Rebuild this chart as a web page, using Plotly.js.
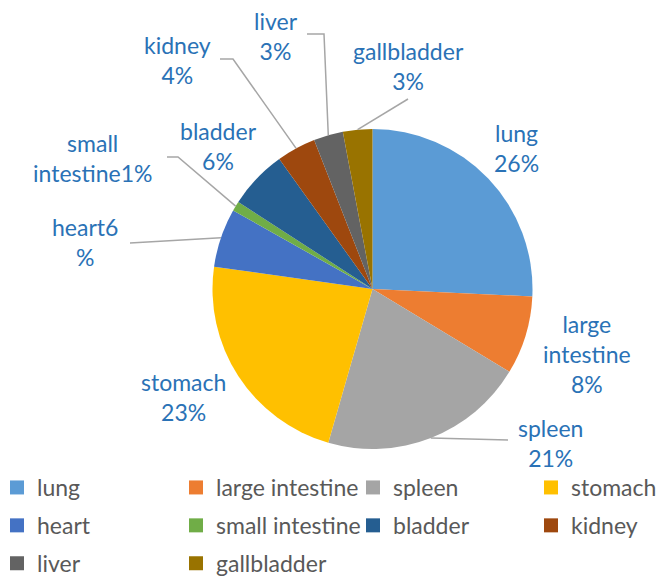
<!DOCTYPE html>
<html><head><meta charset="utf-8">
<script src="https://cdn.plot.ly/plotly-3.0.1.min.js"></script>
<style>html,body{margin:0;padding:0;background:#fff}</style>
</head><body><div id="chart" style="width:657px;height:577px"></div>
<script>
// ---- data ----
const labels = ['lung', 'large intestine', 'spleen', 'stomach', 'heart', 'small intestine', 'bladder', 'kidney', 'liver', 'gallbladder'];
const values = [26, 8, 21, 23, 6, 1, 6, 4, 3, 3];
const colors = ['#5B9BD5', '#ED7D31', '#A5A5A5', '#FFC000', '#4472C4', '#70AD47', '#255E91', '#9E480E', '#636363', '#997300'];
// label line layout as printed on the chart ({p} = percent)
const labelFormats = ['lung<br>{p}', 'large<br>intestine<br>{p}', 'spleen<br>{p}', 'stomach<br>{p}', 'heart6<br>%', 'small<br>intestine{p}', 'bladder<br>{p}', 'kidney<br>{p}', 'liver<br>{p}', 'gallbladder<br>{p}'];

// ---- layout / style ----
const W = 657, H = 577;
const cx = 372.5, cy = 289, R = 160;
const labelPos = [[516,148],[587,354],[550,443],[183,397],[85,242],[92,158],[218,146],[177,60],[276,36],[408,66]];
const leaderPts = [null, null, [[508,440]], null, [[130,243]], [[178,157],[167,157]], null, [[233,59],[220,59]], [[324,34],[307,34]], [[408,99]]];
const legendCols = 4;                 // legend entries flow row by row across 4 columns
const legendTextX = [39, 218, 395, 573];
const legendTop = 466;

const total = values.reduce((a,b)=>a+b,0);
let cum = 0;
const annotations = [], shapes = [];
values.forEach((v,i)=>{
  const mid = (cum + v/2)/total*2*Math.PI; cum += v;
  const ex = cx + R*Math.sin(mid), ey = cy - R*Math.cos(mid);
  const txt = labelFormats[i].replace('{p}', v + '%');
  annotations.push({xref:'paper', yref:'paper', x:labelPos[i][0]/W, y:1-labelPos[i][1]/H,
    xanchor:'center', yanchor:'middle', align:'center', showarrow:false, text:txt,
    font:{family:'Lato, sans-serif', size:23, color:'#2A72B6'}});
  if (leaderPts[i]) {
    let p = 'M' + (ex/W) + ',' + (1-ey/H);
    leaderPts[i].forEach(q=>{ p += ' L' + (q[0]/W) + ',' + (1-q[1]/H); });
    shapes.push({type:'path', xref:'paper', yref:'paper', path:p, line:{color:'#A6A6A6', width:1.5}});
  }
});

const traces = [{
  type:'pie', labels:labels, values:values, sort:false, direction:'clockwise', rotation:0,
  marker:{colors:colors, line:{width:0}}, textinfo:'none', hoverinfo:'label+percent',
  showlegend:false,
  domain:{x:[(cx-R)/W,(cx+R)/W], y:[1-(cy+R)/H, 1-(cy-R)/H]}
}];
// legend keys (one per slice, same colours), arranged in four columns
const layout = {
  width:W, height:H, margin:{l:0,r:0,t:0,b:0, autoexpand:false},
  paper_bgcolor:'#fff', plot_bgcolor:'#fff',
  xaxis:{visible:false}, yaxis:{visible:false},
  annotations:annotations, shapes:shapes
};
labels.forEach((lab,i)=>{
  const col = i % legendCols;
  const lg = col === 0 ? 'legend' : 'legend' + (col+1);
  traces.push({type:'scatter', mode:'markers', x:[null], y:[null], name:lab, legend:lg,
    legendgroup:lab, showlegend:true, hoverinfo:'skip',
    marker:{symbol:'square', size:14, color:colors[i]}});
});
for (let c=0;c<legendCols;c++){
  const key = c === 0 ? 'legend' : 'legend' + (c+1);
  layout[key] = {orientation:'v', x:(legendTextX[c]-42)/W, xanchor:'left', y:1-legendTop/H, yanchor:'top',
    tracegroupgap:5, maxheight:300, bgcolor:'rgba(0,0,0,0)',
    font:{family:'Lato, sans-serif', size:23, color:'#595959'}};
}
Plotly.newPlot('chart', traces, layout, {displayModeBar:false});
</script></body></html>
